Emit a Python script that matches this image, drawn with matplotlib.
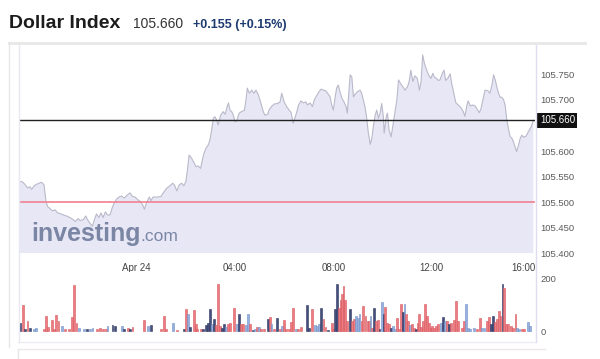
#!/usr/bin/env python3
"""
Dollar Index intraday chart (investing.com style).
Price area on top, volume bars below, saved as out.png.
"""

import matplotlib
matplotlib.use("Agg")
import matplotlib.pyplot as plt
import matplotlib.transforms as mtransforms
from matplotlib.lines import Line2D
from matplotlib.patches import Rectangle
import pandas as pd

# ──────────────────────────────────────────────────────────────
# Data
# ──────────────────────────────────────────────────────────────
TITLE = "Dollar Index"
LAST_PRICE = 105.660
CHANGE_TEXT = "+0.155 (+0.15%)"
PREV_CLOSE = 105.500

price_times = [
    "19:13", "19:21", "19:27", "19:34", "19:40", "19:44", "19:50", "19:56", "20:02", "20:08",
    "20:14", "20:19", "20:23", "20:28", "20:34", "20:41", "20:47", "20:53", "21:01", "21:09",
    "21:17", "21:25", "21:31", "21:37", "21:42", "21:50", "21:56", "22:00", "22:06", "22:12",
    "22:17", "22:22", "22:28", "22:33", "22:38", "22:44", "22:49", "22:55", "23:00", "23:05",
    "23:11", "23:17", "23:23", "23:30", "23:37", "23:44", "23:50", "23:56", "00:04", "00:10",
    "00:15", "00:19", "00:24", "00:31", "00:35", "00:40", "00:50", "00:59", "01:05", "01:13",
    "01:21", "01:28", "01:32", "01:38", "01:44", "01:50", "01:55", "02:00", "02:04", "02:08",
    "02:14", "02:20", "02:25", "02:30", "02:36", "02:43", "02:49", "02:55", "02:59", "03:03",
    "03:07", "03:11", "03:15", "03:19", "03:25", "03:31", "03:36", "03:41", "03:44", "03:48",
    "03:52", "03:56", "04:00", "04:04", "04:10", "04:16", "04:23", "04:27", "04:30", "04:35",
    "04:41", "04:46", "04:51", "04:57", "05:03", "05:09", "05:13", "05:20", "05:23", "05:29",
    "05:36", "05:44", "05:50", "05:54", "06:00", "06:06", "06:12", "06:17", "06:22", "06:26",
    "06:31", "06:35", "06:41", "06:47", "06:53", "06:57", "07:03", "07:09", "07:14", "07:19",
    "07:25", "07:30", "07:36", "07:41", "07:46", "07:52", "07:56", "08:00", "08:04", "08:08",
    "08:12", "08:16", "08:21", "08:26", "08:31", "08:34", "08:38", "08:41", "08:45", "08:49",
    "08:53", "08:59", "09:05", "09:09", "09:13", "09:17", "09:21", "09:25", "09:30", "09:34",
    "09:38", "09:42", "09:46", "09:50", "09:54", "09:58", "10:02", "10:04", "10:09", "10:12",
    "10:16", "10:21", "10:26", "10:31", "10:35", "10:39", "10:44", "10:49", "10:55", "11:01",
    "11:05", "11:09", "11:14", "11:19", "11:25", "11:30", "11:34", "11:38", "11:42", "11:46",
    "11:52", "11:58", "12:03", "12:06", "12:12", "12:16", "12:20", "12:26", "12:30", "12:34",
    "12:39", "12:45", "12:49", "12:53", "12:59", "13:05", "13:12", "13:17", "13:21", "13:26",
    "13:29", "13:34", "13:39", "13:46", "13:52", "13:56", "14:00", "14:05", "14:10", "14:17",
    "14:22", "14:27", "14:31", "14:35", "14:39", "14:43", "14:47", "14:51", "14:55", "14:59",
    "15:03", "15:07", "15:11", "15:17", "15:22", "15:27", "15:32", "15:36", "15:40", "15:44",
    "15:50", "15:56", "16:03", "16:08",
]

prices = [
    105.540, 105.540, 105.535, 105.528, 105.530, 105.525, 105.532, 105.535, 105.537, 105.539,
    105.534, 105.501, 105.491, 105.488, 105.483, 105.485, 105.479, 105.478, 105.475, 105.473,
    105.470, 105.466, 105.462, 105.468, 105.464, 105.466, 105.473, 105.466, 105.459, 105.453,
    105.466, 105.477, 105.470, 105.479, 105.470, 105.481, 105.475, 105.475, 105.488, 105.498,
    105.506, 105.510, 105.512, 105.508, 105.514, 105.518, 105.511, 105.510, 105.504, 105.501,
    105.494, 105.486, 105.499, 105.510, 105.503, 105.510, 105.510, 105.511, 105.518, 105.527,
    105.532, 105.537, 105.534, 105.522, 105.534, 105.537, 105.532, 105.540, 105.563, 105.592,
    105.586, 105.577, 105.569, 105.571, 105.566, 105.592, 105.605, 105.612, 105.622, 105.641,
    105.664, 105.667, 105.661, 105.651, 105.670, 105.677, 105.672, 105.687, 105.694, 105.680,
    105.677, 105.670, 105.657, 105.659, 105.674, 105.677, 105.680, 105.701, 105.723, 105.713,
    105.719, 105.713, 105.719, 105.710, 105.694, 105.677, 105.670, 105.672, 105.680, 105.687,
    105.692, 105.693, 105.696, 105.713, 105.696, 105.687, 105.680, 105.675, 105.654, 105.664,
    105.677, 105.690, 105.698, 105.694, 105.696, 105.690, 105.694, 105.687, 105.701, 105.708,
    105.716, 105.721, 105.719, 105.718, 105.713, 105.706, 105.690, 105.680, 105.703, 105.723,
    105.729, 105.716, 105.703, 105.696, 105.687, 105.674, 105.716, 105.749, 105.745, 105.706,
    105.711, 105.716, 105.719, 105.713, 105.700, 105.687, 105.667, 105.638, 105.613, 105.625,
    105.651, 105.670, 105.680, 105.664, 105.674, 105.693, 105.667, 105.635, 105.667, 105.674,
    105.641, 105.628, 105.654, 105.680, 105.700, 105.739, 105.732, 105.726, 105.719, 105.726,
    105.736, 105.758, 105.736, 105.747, 105.742, 105.719, 105.736, 105.788, 105.772, 105.762,
    105.749, 105.742, 105.752, 105.745, 105.742, 105.738, 105.739, 105.752, 105.758, 105.738,
    105.742, 105.751, 105.731, 105.716, 105.694, 105.690, 105.684, 105.677, 105.668, 105.690,
    105.698, 105.688, 105.690, 105.688, 105.680, 105.675, 105.682, 105.701, 105.719, 105.718,
    105.713, 105.729, 105.749, 105.739, 105.725, 105.713, 105.705, 105.705, 105.701, 105.690,
    105.662, 105.644, 105.629, 105.623, 105.612, 105.599, 105.612, 105.625, 105.631, 105.627,
    105.629, 105.638, 105.648, 105.660,
]

vol_times = [
    "19:15", "19:23", "19:28", "19:34", "19:40", "19:49", "19:54", "20:14", "20:19", "20:23",
    "20:34", "20:39", "20:44", "20:49", "20:58", "21:05", "21:15", "21:22", "21:27", "21:33",
    "21:39", "21:51", "21:59", "22:06", "22:12", "22:23", "22:30", "22:38", "22:45", "22:49",
    "23:01", "23:07", "23:24", "23:29", "23:39", "23:44", "23:50", "00:18", "00:28", "00:35",
    "00:59", "01:07", "01:12", "01:29", "01:38", "01:55", "02:00", "02:05", "02:10", "02:20",
    "02:25", "02:28", "02:37", "02:42", "02:49", "02:54", "02:59", "03:04", "03:09", "03:14",
    "03:18", "03:23", "03:28", "03:33", "03:38", "03:43", "03:48", "03:58", "04:05", "04:10",
    "04:15", "04:19", "04:27", "04:32", "04:37", "04:44", "04:49", "04:54", "04:59", "05:03",
    "05:11", "05:20", "05:25", "05:29", "05:35", "05:42", "05:50", "05:55", "06:00", "06:04",
    "06:12", "06:17", "06:22", "06:29", "06:34", "06:41", "06:56", "07:01", "07:08", "07:15",
    "07:20", "07:25", "07:30", "07:36", "07:41", "07:47", "07:56", "07:59", "08:04", "08:09",
    "08:13", "08:17", "08:21", "08:25", "08:29", "08:33", "08:41", "08:46", "08:50", "08:55",
    "09:00", "09:04", "09:09", "09:12", "09:18", "09:23", "09:27", "09:31", "09:35", "09:39",
    "09:44", "09:49", "09:53", "09:59", "10:03", "10:06", "10:11", "10:16", "10:21", "10:26",
    "10:31", "10:35", "10:40", "10:45", "10:50", "10:54", "10:58", "11:02", "11:07", "11:12",
    "11:17", "11:22", "11:25", "11:29", "11:34", "11:39", "11:44", "11:49", "11:54", "11:58",
    "12:01", "12:06", "12:11", "12:16", "12:23", "12:28", "12:33", "12:37", "12:42", "12:47",
    "12:54", "12:59", "13:04", "13:14", "13:19", "13:24", "13:29", "13:34", "13:43", "13:51",
    "13:58", "14:03", "14:09", "14:15", "14:20", "14:25", "14:30", "14:35", "14:39", "14:44",
    "14:48", "14:53", "14:57", "15:01", "15:06", "15:14", "15:19", "15:24", "15:28", "15:33",
    "15:41", "15:45", "15:55", "16:00",
]

volumes = [
    32, 99, 9, 38, 13, 8, 10, 6, 56, 15,
    41, 6, 60, 38, 19, 6, 6, 54, 175, 32,
    13, 9, 9, 9, 11, 9, 13, 6, 6, 19,
    23, 19, 19, 6, 13, 6, 15, 41, 19, 23,
    6, 56, 6, 29, 4, 6, 86, 66, 15, 79,
    26, 9, 6, 9, 23, 32, 83, 26, 45, 23,
    179, 19, 13, 26, 15, 26, 32, 90, 28, 67,
    26, 26, 23, 67, 28, 4, 9, 15, 15, 9,
    6, 47, 54, 28, 6, 51, 6, 19, 41, 9,
    6, 36, 90, 9, 9, 15, 99, 13, 83, 23,
    19, 26, 90, 45, 15, 4, 32, 6, 86, 179,
    90, 118, 141, 173, 118, 38, 86, 38, 45, 58,
    51, 67, 38, 96, 58, 38, 38, 58, 13, 90,
    38, 41, 6, 113, 67, 92, 32, 26, 13, 19,
    9, 51, 9, 105, 73, 105, 67, 38, 23, 26,
    13, 6, 32, 67, 15, 38, 105, 58, 32, 13,
    19, 13, 19, 26, 32, 55, 38, 38, 26, 32,
    41, 115, 38, 13, 38, 105, 13, 9, 13, 6,
    51, 13, 13, 38, 54, 26, 58, 36, 45, 77,
    58, 179, 164, 28, 26, 19, 13, 67, 13, 9,
    9, 6, 36, 19,
]

# r = red, b = light blue, n = navy
vol_kind = [
    "n", "r", "n", "r", "n", "b", "b", "r", "r", "r",
    "r", "r", "r", "r", "b", "r", "r", "r", "r", "r",
    "b", "b", "n", "b", "b", "r", "r", "r", "r", "b",
    "n", "n", "b", "n", "r", "n", "r", "r", "b", "n",
    "r", "r", "r", "b", "r", "n", "r", "b", "n", "r",
    "r", "r", "r", "n", "n", "n", "n", "b", "n", "r",
    "r", "r", "n", "n", "b", "r", "r", "r", "b", "n",
    "r", "r", "b", "b", "r", "n", "b", "r", "b", "r",
    "r", "n", "r", "b", "r", "n", "r", "b", "r", "r",
    "r", "r", "r", "b", "r", "r", "n", "n", "r", "b",
    "b", "b", "n", "r", "r", "n", "r", "r", "n", "n",
    "r", "r", "r", "r", "r", "r", "n", "r", "r", "b",
    "b", "b", "r", "r", "r", "r", "r", "b", "r", "n",
    "r", "r", "n", "b", "n", "r", "r", "r", "n", "b",
    "b", "r", "r", "r", "n", "b", "r", "r", "b", "r",
    "r", "n", "r", "r", "r", "r", "r", "r", "r", "r",
    "r", "r", "r", "r", "b", "n", "b", "r", "n", "r",
    "r", "r", "r", "r", "r", "b", "b", "b", "b", "r",
    "r", "b", "b", "r", "r", "n", "n", "r", "r", "r",
    "r", "n", "r", "r", "r", "r", "r", "r", "b", "b",
    "r", "r", "b", "b",
]

x_tick_times = ["00:00", "04:00", "08:00", "12:00", "16:00"]
x_tick_labels = ["Apr 24", "04:00", "08:00", "12:00", "16:00"]
y_ticks = [105.400, 105.450, 105.500, 105.550, 105.600, 105.700, 105.750]
vol_ticks = [0, 200]

# ──────────────────────────────────────────────────────────────
# Styling
# ──────────────────────────────────────────────────────────────
W, H = 600, 359
COLORS = {
    "fill": "#e7e7f6",
    "line": "#b9b9ca",
    "last": "#222222",
    "prev": "#f0808f",
    "tick": "#5a5a5a",
    "title": "#1c1c1c",
    "price": "#333333",
    "change": "#1d3b70",
    "mark": "#7a86a4",
    "frame": "#e6e6e6",
    "edge": "#dedef0",
}
BAR_COLORS = {
    "r": ("#eb7c82", "#d9575e"),
    "b": ("#97b0de", "#6f8fc8"),
    "n": ("#454f7e", "#2d365e"),
}

plt.rcParams["font.family"] = ["Liberation Sans", "DejaVu Sans"]


def stamp(hhmm):
    """Evening times belong to Apr 23, the rest to Apr 24."""
    t = pd.Timestamp("2024-04-24 " + hhmm)
    if t.hour >= 18:
        t -= pd.Timedelta(days=1)
    return t


def fx(px):
    return px / W


def fy(py):
    return 1 - py / H


def main():
    t_price = [stamp(s) for s in price_times]
    t_vol = [stamp(s) for s in vol_times]
    x_left, x_right = stamp("19:13"), stamp("16:12")

    fig = plt.figure(figsize=(W / 100, H / 100), dpi=100)
    fig.patch.set_facecolor("white")

    # ── page chrome ──
    fig.add_artist(Rectangle((fx(8), fy(45)), fx(579), 3 / H,
                             transform=fig.transFigure, color="#e9e9e9", lw=0))
    fig.add_artist(Line2D([fx(9), fx(9)], [fy(42), fy(347)], color=COLORS["frame"], lw=1))
    fig.add_artist(Line2D([fx(18), fx(545)], [fy(349), fy(349)], color="#eee8ec", lw=1))
    fig.add_artist(Line2D([fx(17.5), fx(17.5)], [fy(349), fy(359)], color=COLORS["frame"], lw=1))
    fig.add_artist(Line2D([fx(535.5), fx(535.5)], [fy(45), fy(342)], color=COLORS["edge"], lw=1))
    fig.add_artist(Line2D([fx(18.5), fx(18.5)], [fy(45), fy(342)], color="#e8e8f3", lw=1))
    fig.add_artist(Line2D([fx(18), fx(535)], [fy(342), fy(342)], color="#ebebf3", lw=1))

    # ── header ──
    fig.text(fx(9), fy(28), TITLE, fontsize=14, fontweight="bold",
             color=COLORS["title"], va="baseline")
    fig.text(fx(133), fy(28), f"{LAST_PRICE:.3f}", fontsize=10,
             color=COLORS["price"], va="baseline")
    fig.text(fx(193), fy(28), CHANGE_TEXT, fontsize=9, fontweight="bold",
             color=COLORS["change"], va="baseline")

    # ── price panel ──
    ax = fig.add_axes([fx(19), fy(253.3), 516 / W, 208.3 / H])
    ax.fill_between(t_price, prices, 105.0, color=COLORS["fill"], lw=0, zorder=1)
    ax.plot(t_price, prices, color=COLORS["line"], lw=0.8, zorder=3)
    ax.axhline(LAST_PRICE, color=COLORS["last"], lw=1.0, zorder=4)
    ax.axhline(PREV_CLOSE, color=COLORS["prev"], lw=1.2, zorder=4)
    ax.set_xlim(x_left, x_right)
    ax.set_ylim(105.400, 105.8073)

    for s in ax.spines.values():
        s.set_visible(False)

    ax.yaxis.tick_right()
    ax.set_yticks(y_ticks)
    ax.set_yticklabels([f"{v:.3f}" for v in y_ticks])
    ax.tick_params(axis="y", length=0, pad=4, labelsize=6.8, colors=COLORS["tick"])

    ax.set_xticks([stamp(s) for s in x_tick_times])
    ax.set_xticklabels(x_tick_labels)
    ax.tick_params(axis="x", length=0, pad=7, labelsize=7, colors="#444444")
    last = ax.get_xticklabels()[-1]
    last.set_horizontalalignment("right")
    last.set_transform(last.get_transform() +
                       mtransforms.ScaledTranslation(5 / 100, 0, fig.dpi_scale_trans))

    # last price tag
    ax.annotate(f"{LAST_PRICE:.3f}", xy=(1.0, LAST_PRICE),
                xycoords=ax.get_yaxis_transform(), xytext=(3.5, 0),
                textcoords="offset points", ha="left", va="center",
                fontsize=7, color="white", zorder=10, annotation_clip=False,
                bbox=dict(boxstyle="square,pad=0.25", fc="#111111", ec="none"))

    # watermark
    ax.text(0.0233, 0.059, "investing", transform=ax.transAxes, fontsize=18,
            fontweight="bold", color=COLORS["mark"], va="baseline", zorder=2)
    ax.text(0.2345, 0.059, ".com", transform=ax.transAxes, fontsize=12.5,
            color=COLORS["mark"], va="baseline", zorder=2)

    # ── volume panel ──
    av = fig.add_axes([fx(19), fy(342), 516 / W, 70 / H])
    av.bar(t_vol, volumes, width=4 / 1440,
           color=[BAR_COLORS[k][0] for k in vol_kind],
           edgecolor=[BAR_COLORS[k][1] for k in vol_kind], linewidth=0.4)
    av.set_xlim(x_left, x_right)
    av.set_ylim(-42.3, 226.9)
    for s in av.spines.values():
        s.set_visible(False)
    av.set_xticks([])
    av.yaxis.tick_right()
    av.set_yticks(vol_ticks)
    av.tick_params(axis="y", length=0, pad=4, labelsize=6.8, colors=COLORS["tick"])

    fig.savefig("out.png", dpi=100, facecolor="white")
    plt.close(fig)


if __name__ == "__main__":
    main()
